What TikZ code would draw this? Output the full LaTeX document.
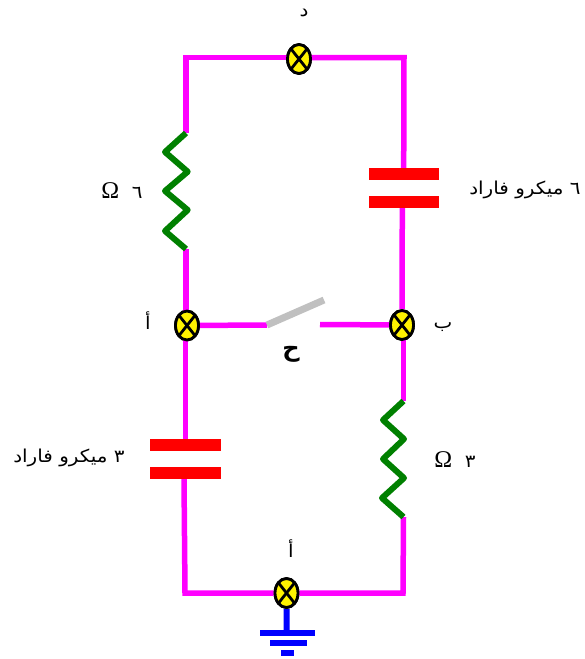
\documentclass[tikz,border=0pt]{standalone}
\usepackage{fontspec}
\usetikzlibrary{shapes.geometric}
\TeXXeTstate=1
\newfontfamily\arabicfont[Script=Arabic,FakeStretch=1.12]{DejaVu Sans}
\newfontfamily\boldarabic[Script=Arabic]{DejaVu Sans}
\newfontfamily\omegafont{Liberation Serif}
\definecolor{wire}{RGB}{255,0,255}
\definecolor{resist}{RGB}{0,128,0}
\definecolor{plate}{RGB}{255,0,0}
\definecolor{sw}{RGB}{192,192,192}
\definecolor{gnd}{RGB}{0,0,255}
\tikzset{
  x=1pt,y=-1pt,
  wireline/.style={draw=wire,line width=5.5pt},
  zigzag/.style={draw=resist,line width=6pt,line join=round},
  capplate/.style={fill=plate,draw=none},
  gndline/.style={fill=gnd,draw=none},
  junction/.style={ellipse,draw=black,line width=2.8pt,fill=yellow,minimum width=23pt,minimum height=29pt,inner sep=0pt,
    path picture={
      \draw[black,line width=2.8pt] (path picture bounding box.south west) -- (path picture bounding box.north east);
      \draw[black,line width=2.8pt] (path picture bounding box.north west) -- (path picture bounding box.south east);
    }},
  lab/.style={inner sep=0pt,font=\fontsize{17.8}{20}\arabicfont,text=black}
}
\begin{document}
\begin{tikzpicture}
\useasboundingbox (0,0) rectangle (584,659);
% junctions
\node[junction] (d) at (299,59) {};
\node[junction] (a) at (187,325.5) {};
\node[junction] (b) at (402,325) {};
\node[junction] (g) at (286.5,593) {};
% corners and component terminals
\coordinate (tl) at (186,57.5);
\coordinate (tr) at (404,57.5);
\coordinate (bl) at (185,593);
\coordinate (br) at (403,593);
\coordinate (r1a) at (186,133);
\coordinate (r1b) at (186,249);
\coordinate (r2a) at (403.5,401);
\coordinate (r2b) at (403.5,517);
\coordinate (c1a) at (403.7,168);
\coordinate (c1b) at (402.3,208);
\coordinate (c2a) at (185.5,439);
\coordinate (c2b) at (184,479);
\coordinate (s1) at (267,325);
\coordinate (s2) at (320,324.5);
\coordinate (s3) at (324,300);
\coordinate (g1) at (286.7,630);
% wires
\path[wireline] (d.center |- tl) -- (tl) -- (r1a);
\path[wireline] (d.center |- tr) -- (tr) -- (c1a);
\path[wireline] (r1b) -- (r1b |- a);
\path[wireline] (c1b) -- (b);
\path[wireline] (a) -- (s1);
\path[wireline] (s2) -- (b);
\path[wireline] (c2a |- a) -- (c2a);
\path[wireline] (r2a |- b) -- (r2a);
\path[wireline] (c2b) -- (bl) -- (g);
\path[wireline] (r2b) -- (br) -- (g);
% resistors
\path[zigzag] (r1a) -- (165,152) -- (187.7,171.7) -- (165,191) -- (187.7,210) -- (165,231) -- (r1b);
\path[zigzag] (r2a) -- (383,420) -- (404,439) -- (383,459) -- (404,478) -- (382,498) -- (r2b);
% capacitors
\path[capplate] (368.5,168) rectangle (439,180);
\path[capplate] (368.5,196) rectangle (439,208);
\path[capplate] (150,439) rectangle (221,451);
\path[capplate] (150,467) rectangle (221,479);
% switch
\draw[sw,line width=7pt] (s1) -- (s3);
% ground
\draw[gnd,line width=6pt] (g) -- (g1);
\path[gndline] (260,630) rectangle (315,636);
\path[gndline] (270,640) rectangle (306.5,646);
\path[gndline] (281,650) rectangle (294,656);
% redraw junctions on top
\node[junction] at (d) {};
\node[junction] at (a) {};
\node[junction] at (b) {};
\node[junction] at (g) {};
% labels
\node[lab] (ld) at (304,13) {\beginR د\endR};
\node[lab] (la) at (148,321) {\beginR أ\endR};
\node[lab] (lb) at (443,327) {\beginR ب\endR};
\node[lab] (lg) at (291,549) {\beginR أ\endR};
\node[lab,font=\fontsize{24}{26}\boldarabic\bfseries] (lh) at (291,354) {\beginR ح\endR};
\node[lab] (lc1) at (525,190) {\beginR ٦ ميكرو فاراد\endR};
\node[lab] (lc2) at (69,458) {\beginR ٣ ميكرو فاراد\endR};
\node[lab] (lr1) at (122,191) {{\fontsize{24}{24}\omegafont Ω}\ \ \beginR ٦\endR};
\node[lab] (lr2) at (455,460) {{\fontsize{24}{24}\omegafont Ω}\ \ \beginR ٣\endR};
\end{tikzpicture}
\end{document}
